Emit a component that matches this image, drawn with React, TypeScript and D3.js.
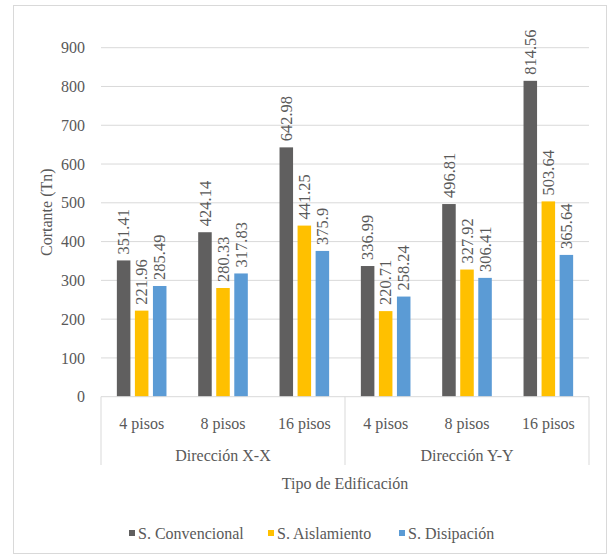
import * as d3 from 'd3';

const floors = ['4 pisos', '8 pisos', '16 pisos'];
const directions = ['Dirección X-X', 'Dirección Y-Y'];
const seriesNames = ['S. Convencional', 'S. Aislamiento', 'S. Disipación'];
const seriesColors = ['#605f5f', '#ffc000', '#5b9bd5'];

const convencional = [351.41, 424.14, 642.98, 336.99, 496.81, 814.56];
const aislamiento = [221.96, 280.33, 441.25, 220.71, 327.92, 503.64];
const disipacion = [285.49, 317.83, 375.9, 258.24, 306.41, 365.64];

const yTicks = [0, 100, 200, 300, 400, 500, 600, 700, 800, 900];

const W = 610;
const H = 556;
const left = 101;
const right = 589;
const top = 47.7;
const bottom = 396.7;
const font = '"Liberation Serif", "Times New Roman", Times, serif';
const textColor = '#595959';
const fs = 16;

export default function App() {
  const series = [convencional, aislamiento, disipacion];
  const cats = directions.flatMap((d, i) => floors.map((f) => `${i}|${f}`));

  const x = d3.scaleBand<string>().domain(cats).range([left, right]).paddingInner(0.39).paddingOuter(0.195);
  const xs = d3.scaleBand<number>().domain([0, 1, 2]).range([0, x.bandwidth()]).paddingInner(0.25);
  const y = d3.scaleLinear().domain([0, 900]).range([bottom, top]);

  const groupW = (right - left) / directions.length;

  return (
    <svg width={W} height={H} style={{ position: 'absolute', left: 0, top: 0, fontFamily: font }}>
      <rect x={13.5} y={5.5} width={593} height={548} fill="#fff" stroke="#d9d9d9" />
      {yTicks.map((t) => (
        <g key={t}>
          {t > 0 && <line x1={left} x2={right} y1={y(t)} y2={y(t)} stroke="#d9d9d9" />}
          <text x={85} y={y(t)} dy="0.35em" textAnchor="end" fontSize={fs} fill={textColor}>
            {t}
          </text>
        </g>
      ))}
      <text
        transform={`translate(46,${(top + bottom) / 2 - 10}) rotate(-90)`}
        textAnchor="middle"
        dy="0.35em"
        fontSize={fs}
        fill={textColor}
      >
        Cortante (Tn)
      </text>
      {cats.map((c, ci) =>
        series.map((vals, si) => {
          const bx = (x(c) ?? 0) + (xs(si) ?? 0);
          const bw = xs.bandwidth();
          const v = vals[ci];
          return (
            <g key={`${c}-${si}`}>
              <rect x={bx} y={y(v)} width={bw} height={bottom - y(v)} fill={seriesColors[si]} />
              <text
                transform={`translate(${bx + bw / 2},${y(v) - 6}) rotate(-90)`}
                dy="0.35em"
                textAnchor="start"
                fontSize={16.5}
                fill={textColor}
              >
                {String(v)}
              </text>
            </g>
          );
        })
      )}
      <line x1={left} x2={right} y1={bottom} y2={bottom} stroke="#d9d9d9" />
      {[0, 1, 2].map((i) => (
        <line key={i} x1={left + i * groupW} x2={left + i * groupW} y1={bottom} y2={465} stroke="#d9d9d9" />
      ))}
      {cats.map((c) => (
        <text
          key={c}
          x={(x(c) ?? 0) + x.bandwidth() / 2}
          y={423}
          dy="0.35em"
          textAnchor="middle"
          fontSize={fs}
          fill={textColor}
        >
          {c.split('|')[1]}
        </text>
      ))}
      {directions.map((d, i) => (
        <text key={d} x={left + (i + 0.5) * groupW} y={455} dy="0.35em" textAnchor="middle" fontSize={fs} fill={textColor}>
          {d}
        </text>
      ))}
      <text x={(left + right) / 2} y={483} dy="0.35em" textAnchor="middle" fontSize={fs} fill={textColor}>
        Tipo de Edificación
      </text>
      {seriesNames.map((n, i) => {
        const mx = [129, 268, 399][i];
        return (
          <g key={n}>
            <rect x={mx} y={530} width={6} height={6} fill={seriesColors[i]} />
            <text x={mx + 9} y={533} dy="0.35em" fontSize={fs} fill={textColor}>
              {n}
            </text>
          </g>
        );
      })}
    </svg>
  );
}
